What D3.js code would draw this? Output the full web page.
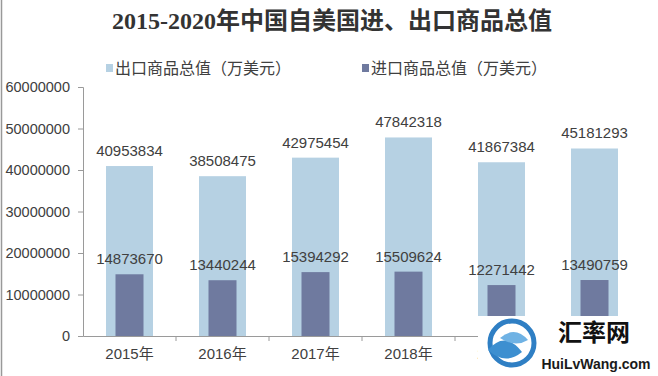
<!DOCTYPE html>
<html lang="zh">
<head>
  <meta charset="UTF-8">
  <title>2015-2020年中国自美国进、出口商品总值</title>
  <style>
    body {
      margin: 0;
      padding: 0;
      background-color: #ffffff;
    }
    svg text {
      font-family: "Liberation Sans", Arial, "Noto Sans CJK SC", sans-serif;
      fill: #404040;
    }
  </style>
</head>
<body>
<div id="chart"></div>
<script src="https://d3js.org/d3.v7.min.js"></script>
<script>
  // data
  const years = ["2015年", "2016年", "2017年", "2018年", "2019年", "2020年"];
  const exportValues = [40953834, 38508475, 42975454, 47842318, 41867384, 45181293];
  const importValues = [14873670, 13440244, 15394292, 15509624, 12271442, 13490759];
  const seriesNames = ["出口商品总值（万美元）", "进口商品总值（万美元）"];
  const yTicks = [0, 10000000, 20000000, 30000000, 40000000, 50000000, 60000000];

  const width = 658;
  const height = 376;
  const colors = ["#b6d1e3", "#6f7a9f"];

  const svg = d3.select("#chart").append("svg")
    .attr("width", width)
    .attr("height", height);

  // frame line on the left
  svg.append("line")
    .attr("x1", 1.5).attr("x2", 1.5)
    .attr("y1", 0).attr("y2", height)
    .attr("stroke", "#999").attr("stroke-width", 1.5);

  // title
  svg.append("text")
    .attr("x", 332)
    .attr("y", 29)
    .attr("text-anchor", "middle")
    .style("font-family", '"Liberation Serif", "Noto Sans CJK SC", serif')
    .style("font-weight", "bold")
    .style("font-size", "24px")
    .style("fill", "#333")
    .text("2015-2020年中国自美国进、出口商品总值");

  // legend
  const legendX = [106, 362];
  seriesNames.forEach((name, i) => {
    svg.append("rect")
      .attr("x", legendX[i]).attr("y", 64)
      .attr("width", 7).attr("height", 8)
      .attr("fill", colors[i]);
    svg.append("text")
      .attr("x", legendX[i] + 9)
      .attr("y", 74)
      .style("font-size", "16px")
      .text(name);
  });

  const x = d3.scaleBand().domain(years).range([83, 641]);
  const y = d3.scaleLinear().domain([0, 60000000]).range([336, 87]);

  // y axis
  const yAxis = svg.append("g")
    .attr("transform", "translate(83,0)")
    .call(d3.axisLeft(y).tickValues(yTicks).tickSize(5).tickPadding(8).tickFormat(d3.format("d")));
  yAxis.selectAll("path, line").attr("stroke", "#9a9a9a");
  yAxis.selectAll("text").style("font-size", "14.5px").attr("fill", "#404040");

  // bars
  const lightW = 47, darkW = 28;
  svg.selectAll(".bar-export")
    .data(exportValues)
    .enter().append("rect")
    .attr("class", "bar-export")
    .attr("x", (d, i) => x(years[i]) + x.bandwidth() / 2 - lightW / 2)
    .attr("y", d => y(d))
    .attr("width", lightW)
    .attr("height", d => y(0) - y(d))
    .attr("fill", colors[0]);

  svg.selectAll(".bar-import")
    .data(importValues)
    .enter().append("rect")
    .attr("class", "bar-import")
    .attr("x", (d, i) => x(years[i]) + x.bandwidth() / 2 - darkW / 2)
    .attr("y", d => y(d))
    .attr("width", darkW)
    .attr("height", d => y(0) - y(d))
    .attr("fill", colors[1]);

  // value labels
  [exportValues, importValues].forEach(vals => {
    svg.selectAll(null)
      .data(vals)
      .enter().append("text")
      .attr("x", (d, i) => x(years[i]) + x.bandwidth() / 2)
      .attr("y", d => y(d) - 10)
      .attr("text-anchor", "middle")
      .style("font-size", "15px")
      .text(d => d);
  });

  // x axis
  const xAxis = svg.append("g")
    .attr("transform", "translate(0,336)")
    .call(d3.axisBottom(x).tickSize(0).tickPadding(12));
  xAxis.select("path").attr("stroke", "#9a9a9a");
  xAxis.selectAll("text").style("font-size", "15px").attr("fill", "#404040");
  // category boundary ticks
  xAxis.selectAll(".sep")
    .data(years.slice(1))
    .enter().append("line")
    .attr("x1", d => x(d)).attr("x2", d => x(d))
    .attr("y1", 0).attr("y2", 5)
    .attr("stroke", "#9a9a9a");

  // watermark logo box
  const logo = svg.append("g");
  logo.append("rect")
    .attr("x", 478).attr("y", 316)
    .attr("width", 180).attr("height", 60)
    .attr("fill", "#fff");
  logo.append("circle")
    .attr("cx", 512).attr("cy", 343).attr("r", 22)
    .attr("fill", "none").attr("stroke", "#2f7fc4").attr("stroke-width", 5);
  logo.append("path")
    .attr("d", "M488,350 Q505,330 522,352 Q505,366 488,350 Z")
    .attr("fill", "#3d8fd0");
  logo.append("path")
    .attr("d", "M500,338 Q515,325 528,340 Q515,348 500,338 Z")
    .attr("fill", "#6fb2e4");
  logo.append("text")
    .attr("x", 594).attr("y", 341)
    .attr("text-anchor", "middle")
    .style("font-family", '"Noto Sans CJK SC", sans-serif')
    .style("font-weight", "bold")
    .style("font-size", "24px")
    .style("fill", "#111")
    .text("汇率网");
  logo.append("text")
    .attr("x", 596).attr("y", 369)
    .attr("text-anchor", "middle")
    .style("font-size", "14px")
    .style("font-weight", "bold")
    .style("fill", "#1a1a1a")
    .text("HuiLvWang.com");
</script>
</body>
</html>
